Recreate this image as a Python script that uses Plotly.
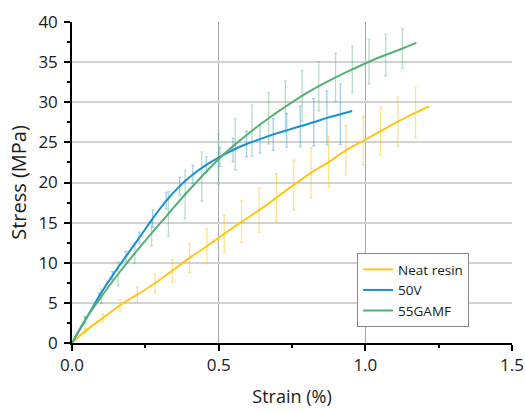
import plotly.graph_objects as go

# ---- data ----
neat_x = [0.0, 0.046, 0.105, 0.164, 0.223, 0.283, 0.342, 0.401, 0.460, 0.519, 0.578,
          0.638, 0.697, 0.756, 0.815, 0.875, 0.934, 0.993, 1.052, 1.111, 1.171, 1.218]
neat_y = [0.0, 1.5, 3.1, 4.7, 6.05, 7.45, 9.0, 10.6, 12.05, 13.6, 15.1,
          16.55, 18.1, 19.7, 21.2, 22.55, 24.0, 25.2, 26.4, 27.6, 28.7, 29.5]
neat_err = [0.0, 0.3, 0.45, 0.7, 0.9, 1.1, 1.4, 1.8, 2.2, 2.33, 2.6,
            2.75, 2.96, 3.1, 3.15, 3.2, 3.06, 3.0, 3.0, 3.04, 3.1, 0.0]

v50_x = [0.0, 0.046, 0.092, 0.138, 0.184, 0.229, 0.275, 0.321, 0.367, 0.412, 0.458,
         0.504, 0.549, 0.595, 0.641, 0.686, 0.732, 0.778, 0.824, 0.869, 0.915, 0.955]
v50_y = [0.0, 2.9, 5.8, 8.4, 10.8, 13.1, 15.5, 17.7, 19.55, 21.0, 22.2,
         23.2, 24.05, 24.8, 25.4, 26.0, 26.5, 27.0, 27.5, 28.05, 28.5, 28.9]
v50_err = [0.0, 0.3, 0.4, 0.5, 0.6, 0.7, 1.1, 1.0, 1.1, 1.15, 1.0,
           1.2, 1.45, 1.6, 1.75, 1.95, 2.1, 2.55, 2.95, 3.35, 3.75, 0.0]

g55_x = [0.0, 0.0435, 0.1005, 0.1575, 0.2145, 0.2715, 0.3285, 0.3855, 0.4425, 0.4995, 0.5565,
         0.6135, 0.6705, 0.7275, 0.7845, 0.8415, 0.8985, 0.9555, 1.0125, 1.0695, 1.1265, 1.174]
g55_y = [0.0, 2.8, 5.8, 8.6, 11.2, 13.7, 16.1, 18.5, 20.75, 22.9, 24.75,
         26.45, 28.0, 29.45, 30.8, 32.0, 33.1, 34.1, 35.05, 35.9, 36.7, 37.4]
g55_err = [0.0, 0.5, 0.87, 1.46, 1.25, 1.6, 2.8, 3.0, 3.06, 3.1, 3.2,
           3.2, 3.2, 3.2, 3.15, 3.07, 3.0, 2.9, 2.77, 2.6, 2.44, 0.0]

series = [
    ("Neat resin", neat_x, neat_y, neat_err, "#FFC61A", "rgba(255,198,26,0.5)"),
    ("50V", v50_x, v50_y, v50_err, "#1B8FD2", "rgba(27,143,210,0.42)"),
    ("55GAMF", g55_x, g55_y, g55_err, "#55B076", "rgba(85,176,118,0.42)"),
]

x_ticks = [0.0, 0.5, 1.0, 1.5]
x_ticktext = ["0.0", "0.5", "1.0", "1.5"]
y_ticks = [0, 5, 10, 15, 20, 25, 30, 35, 40]

fig = go.Figure()

# error bars (drawn first, lighter)
for name, xs, ys, es, col, ecol in series:
    fig.add_trace(go.Scatter(
        x=xs[1:-1], y=ys[1:-1], mode="markers",
        marker=dict(size=1, color="rgba(0,0,0,0)"),
        error_y=dict(type="data", array=es[1:-1], visible=True,
                     color=ecol, thickness=1.3, width=1.5),
        showlegend=False, hoverinfo="skip"))

# mean curves
for name, xs, ys, es, col, ecol in series:
    fig.add_trace(go.Scatter(
        x=xs, y=ys, mode="lines", name=name,
        line=dict(color=col, width=2, shape="spline", smoothing=1.0)))

font_family = "Open Sans, Noto Sans, DejaVu Sans, sans-serif"

fig.update_layout(
    width=525, height=413,
    margin=dict(l=72, r=13, t=22, b=70),
    paper_bgcolor="white", plot_bgcolor="white",
    font=dict(family=font_family, color="#1a1a1a", size=17),
    xaxis=dict(
        range=[0, 1.5], tickvals=x_ticks, ticktext=x_ticktext,
        automargin=False,
        showline=True, linecolor="black", linewidth=1.5,
        ticks="outside", ticklen=6, tickwidth=1.5, tickcolor="black",
        minor=dict(dtick=0.25, ticks="outside", ticklen=3, tickwidth=1.5,
                   tickcolor="black", showgrid=False),
        showgrid=True, gridcolor="#a8a8a8", gridwidth=1,
        zeroline=False,
        tickfont=dict(size=17),
        title=dict(text="Strain (%)", font=dict(size=18), standoff=15),
    ),
    yaxis=dict(
        range=[0, 40], tickvals=y_ticks,
        automargin=False,
        showline=True, linecolor="black", linewidth=1.5,
        ticks="outside", ticklen=6, tickwidth=1.5, tickcolor="black",
        minor=dict(dtick=2.5, ticks="outside", ticklen=3, tickwidth=1.5,
                   tickcolor="black", showgrid=False),
        showgrid=True, gridcolor="#d2d2d2", gridwidth=1.5,
        zeroline=False,
        tickfont=dict(size=17), ticklabelstandoff=3,
        title=dict(text="Stress (MPa)", font=dict(size=20), standoff=6),
    ),
    legend=dict(
        x=0.648, y=0.28, xanchor="left", yanchor="top",
        bgcolor="white", bordercolor="#888888", borderwidth=1,
        font=dict(size=13.5, family=font_family),
        tracegroupgap=0, itemwidth=30,
    ),
)

# remove the browser's default 8px page margin so the figure fills the window
fig.write_html("out.html", config={"displayModeBar": False},
               post_script="document.body.style.margin='0';document.body.style.overflow='hidden';")
